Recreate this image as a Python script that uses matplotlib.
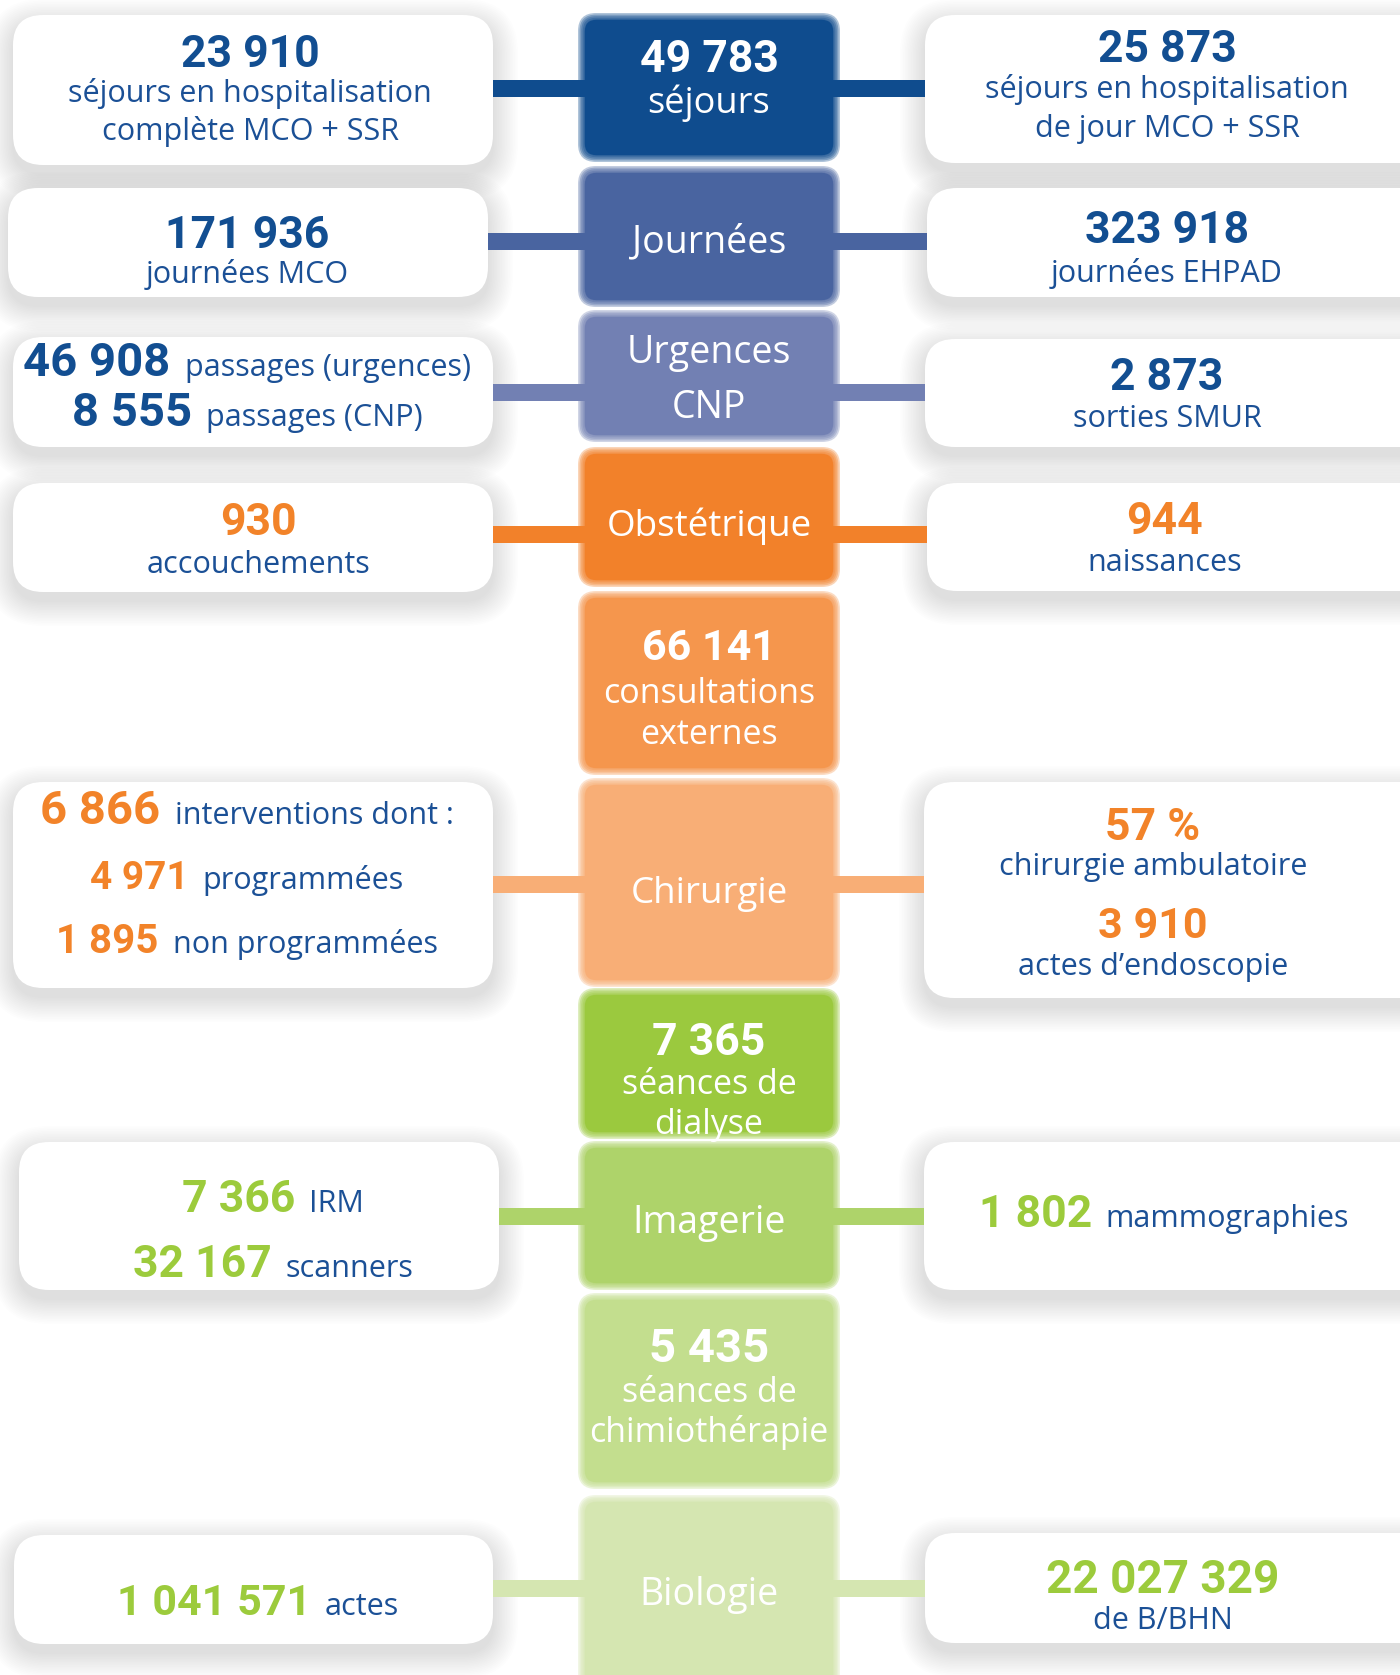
import matplotlib
matplotlib.use("Agg")
import matplotlib.pyplot as plt
from matplotlib.patches import FancyBboxPatch, Rectangle

# ---------------- data ----------------
center_numbers = ["49 783", "", "", "", "66 141", "", "7 365", "", "5 435", ""]
center_texts = [["séjours"], ["Journées"], ["Urgences", "CNP"], ["Obstétrique"],
                ["consultations", "externes"], ["Chirurgie"], ["séances de", "dialyse"],
                ["Imagerie"], ["séances de", "chimiothérapie"], ["Biologie"]]
center_colors = ["#0F4C8E", "#4964A0", "#7280B3", "#F2812A", "#F5964D",
                 "#F8AE76", "#9BC93E", "#AED36A", "#C3DE8E", "#D5E6B1"]

side_rows = [0, 1, 2, 3, 5, 7, 9]   # centre row each side box links to

left_numbers = [["23 910"], ["171 936"], ["46 908", "8 555"], ["930"],
                ["6 866", "4 971", "1 895"], ["7 366", "32 167"], ["1 041 571"]]
left_labels = [["séjours en hospitalisation", "complète MCO + SSR"], ["journées MCO"],
               ["passages (urgences)", "passages (CNP)"], ["accouchements"],
               ["interventions dont :", "programmées", "non programmées"],
               ["IRM", "scanners"], ["actes"]]
left_inline = [False, False, True, False, True, True, True]

right_numbers = [["25 873"], ["323 918"], ["2 873"], ["944"], ["57 %", "3 910"],
                 ["1 802"], ["22 027 329"]]
right_labels = [["séjours en hospitalisation", "de jour MCO + SSR"], ["journées EHPAD"],
                ["sorties SMUR"], ["naissances"],
                ["chirurgie ambulatoire", "actes d’endoscopie"],
                ["mammographies"], ["de B/BHN"]]
right_inline = [False, False, False, False, False, True, False]

number_colors = ["#124E91", "#124E91", "#124E91", "#F28329", "#F28329", "#9CCB3C", "#9CCB3C"]

# ---------------- layout (pixels) ----------------
W, H = 1400, 1675
CX0, CX1 = 580, 838
CXM = (CX0 + CX1) / 2
center_boxes = [(15, 160), (168, 305), (312, 440), (449, 585), (593, 773), (780, 985),
                (990, 1137), (1143, 1288), (1295, 1487), (1497, 1710)]
center_num_base = [72, None, None, None, 660, None, 1055, None, 1362, None]
center_txt_base = [[113], [252], [363, 418], [536], [703, 744], [903],
                   [1094, 1134], [1233], [1402, 1442], [1605]]
center_txt_size = [26, 27, 27, 26.5, 24.5, 26.5, 24.5, 27, 24.5, 27]
center_num_size = [32, 0, 0, 0, 31, 0, 32, 0, 34, 0]

left_boxes = [(13, 15, 493, 165), (8, 188, 488, 297), (13, 337, 493, 447),
              (13, 483, 493, 592), (13, 782, 493, 988), (19, 1142, 499, 1290),
              (14, 1535, 493, 1644)]
left_cx = [250, 247, 247, 258, 247, 273, 258]
left_base = [[67, 102, 140], [248, 283], [376, 426], [535, 573],
             [824, 889, 953], [1212, 1277], [1615]]
left_num_size = [[32], [32], [34, 34], [32], [34, 28, 29], [32, 32], [31]]

right_boxes = [(925, 15, 1430, 163), (927, 188, 1430, 297), (925, 339, 1430, 447),
               (927, 483, 1430, 591), (924, 782, 1430, 998), (924, 1142, 1430, 1290),
               (925, 1533, 1430, 1643)]
right_cx = [1167, 1167, 1167, 1165, 1153, 1164, 1163]
right_base = [[62, 98, 137], [243, 282], [390, 427], [534, 571],
              [840, 875, 938, 975], [1227], [1593, 1629]]
right_num_size = [[32], [32], [32], [32], [32, 31], [32], [33]]

connector_y = [88.5, 241.5, 392.5, 534, 884.5, 1216.5, 1588.5]
CONN_H = 17

TEXT_BLUE = "#1B5096"
LABEL_FONT = "Open Sans"
NUM_FONT = "Roboto"
LABEL_SIZE = 22

fig = plt.figure(figsize=(W / 100, H / 100), dpi=100)
ax = fig.add_axes([0, 0, 1, 1])
ax.set_xlim(0, W)
ax.set_ylim(H, 0)
ax.axis("off")
fig.patch.set_facecolor("white")
renderer = fig.canvas.get_renderer()


def rbox(x0, y0, x1, y1, r, **kw):
    p = FancyBboxPatch((x0 + r, y0 + r), (x1 - x0) - 2 * r, (y1 - y0) - 2 * r,
                       boxstyle=f"round,pad={r},rounding_size={r}", linewidth=0, **kw)
    ax.add_patch(p)
    return p


def soft_box(x0, y0, x1, y1, color, r=16, feather=8, n=6, z=3):
    for i in range(n):
        e = feather / 4 - feather * i / (n - 1)
        rbox(x0 - e, y0 - e, x1 + e, y1 + e, max(r + e, 2), facecolor=color, alpha=0.33, zorder=z)
    rbox(x0 + feather * 0.6, y0 + feather * 0.6, x1 - feather * 0.6, y1 - feather * 0.6,
         max(r - feather / 2, 2), facecolor=color, zorder=z)


def side_box(x0, y0, x1, y1, r=30):
    for i in range(16):
        e = 1 + i * 1.6
        rbox(x0 - e, y0 - e + 9, x1 + e, y1 + e + 9, r + e, facecolor="black",
             alpha=0.006, zorder=1)
    rbox(x0, y0, x1, y1, r, facecolor="white", zorder=4)


def text_width(s, **kw):
    t = ax.text(0, 0, s, **kw)
    w = t.get_window_extent(renderer).width
    t.remove()
    return w


def inline(cx, y, num, lab, ncol, nsize, gap=14):
    nkw = dict(fontsize=nsize, fontfamily=NUM_FONT, fontweight="bold")
    lkw = dict(fontsize=LABEL_SIZE, fontfamily=LABEL_FONT)
    wn = text_width(num, **nkw)
    wl = text_width(lab, **lkw)
    x0 = cx - (wn + gap + wl) / 2
    ax.text(x0, y, num, color=ncol, ha="left", va="baseline", zorder=6, **nkw)
    ax.text(x0 + wn + gap, y, lab, color=TEXT_BLUE, ha="left", va="baseline", zorder=6, **lkw)


def stacked(cx, bases, nums, labs, ncol, nsizes):
    lines = []
    if len(nums) == 1:
        lines = [("n", nums[0], nsizes[0])] + [("l", s, 0) for s in labs]
    else:
        for n, l, s in zip(nums, labs, nsizes):
            lines += [("n", n, s), ("l", l, 0)]
    for (kind, s, sz), y in zip(lines, bases):
        if kind == "n":
            ax.text(cx, y, s, color=ncol, ha="center", va="baseline", fontsize=sz,
                    fontfamily=NUM_FONT, fontweight="bold", zorder=6)
        else:
            ax.text(cx, y, s, color=TEXT_BLUE, ha="center", va="baseline",
                    fontsize=LABEL_SIZE, fontfamily=LABEL_FONT, zorder=6)


# connectors
for i, row in enumerate(side_rows):
    col = center_colors[row]
    y = connector_y[i]
    lb = left_boxes[i]
    rb = right_boxes[i]
    ax.add_patch(Rectangle((lb[2] - 20, y - CONN_H / 2), CX0 + 20 - (lb[2] - 20), CONN_H,
                           facecolor=col, linewidth=0, zorder=2))
    ax.add_patch(Rectangle((CX1 - 20, y - CONN_H / 2), rb[0] + 20 - (CX1 - 20), CONN_H,
                           facecolor=col, linewidth=0, zorder=2))

# centre column
for i, (y0, y1) in enumerate(center_boxes):
    soft_box(CX0, y0, CX1, y1, center_colors[i])
    if center_numbers[i]:
        ax.text(CXM, center_num_base[i], center_numbers[i], color="white", ha="center",
                va="baseline", fontsize=center_num_size[i], fontfamily=NUM_FONT,
                fontweight="bold", zorder=6)
    for s, yb in zip(center_texts[i], center_txt_base[i]):
        ax.text(CXM, yb, s, color="white", ha="center", va="baseline",
                fontsize=center_txt_size[i], fontfamily=LABEL_FONT, zorder=6)

# side boxes
for i in range(len(side_rows)):
    side_box(*left_boxes[i])
    side_box(*right_boxes[i])
    col = number_colors[i]
    if left_inline[i]:
        for n, l, y, s in zip(left_numbers[i], left_labels[i], left_base[i], left_num_size[i]):
            inline(left_cx[i], y, n, l, col, s)
    else:
        stacked(left_cx[i], left_base[i], left_numbers[i], left_labels[i], col, left_num_size[i])
    if right_inline[i]:
        for n, l, y, s in zip(right_numbers[i], right_labels[i], right_base[i], right_num_size[i]):
            inline(right_cx[i], y, n, l, col, s)
    else:
        stacked(right_cx[i], right_base[i], right_numbers[i], right_labels[i], col, right_num_size[i])

fig.savefig("out.png", dpi=100, facecolor="white")
